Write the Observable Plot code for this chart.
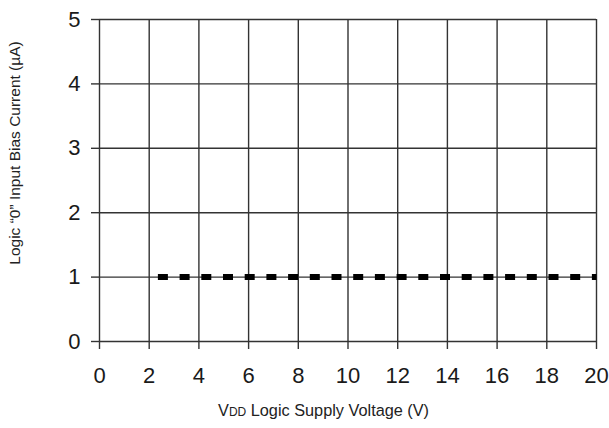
<!DOCTYPE html>
<html>
<head>
<meta charset="utf-8">
<script src="https://cdn.jsdelivr.net/npm/d3@7"></script>
<script src="https://cdn.jsdelivr.net/npm/@observablehq/plot@0.6"></script>
<style>
  html, body { margin: 0; padding: 0; background: #fff; }
  #wrap { position: relative; width: 609px; height: 428px; font-family: "Liberation Sans", Arial, sans-serif; }
  #xlabel { position: absolute; left: 218px; top: 401px; font-size: 16.3px; color: #222; white-space: nowrap; }
  #xlabel .sub { font-size: 12px; }
</style>
</head>
<body>
<div id="wrap">
  <div id="chart"></div>
  <div id="xlabel">V<span class="sub">DD</span> Logic Supply Voltage (V)</div>
</div>
<script>
// Data
const vdd = [2.35, 20];            // VDD logic supply voltage (V)
const biasCurrent = [1, 1];        // Logic "0" input bias current (µA)
const xTicks = [0, 2, 4, 6, 8, 10, 12, 14, 16, 18, 20];
const yTicks = [0, 1, 2, 3, 4, 5];
const yLabel = "Logic \u201C0\u201D Input Bias Current (\u00B5A)";

const data = vdd.map((v, i) => ({ vdd: v, current: biasCurrent[i] }));

const chart = Plot.plot({
  width: 609,
  height: 392,
  marginLeft: 99,
  marginRight: 13,
  marginTop: 19,
  marginBottom: 51,
  x: { domain: [0, 20] },
  y: { domain: [0, 5] },
  style: { fontFamily: "'Liberation Sans', Arial, sans-serif", background: "#fff", color: "#1a1a1a", overflow: "visible" },
  marks: [
    Plot.gridX(xTicks, { stroke: "#333", strokeOpacity: 1, strokeWidth: 1.4 }),
    Plot.gridY(yTicks, { stroke: "#333", strokeOpacity: 1, strokeWidth: 1.4 }),
    Plot.axisX(xTicks, { tickSize: 8, tickPadding: 18, fontSize: 22, label: null, tickFormat: d3.format("d"), stroke: "#333", strokeWidth: 1.4, strokeOpacity: 1 }),
    Plot.axisY(yTicks, { tickSize: 8, tickPadding: 11, fontSize: 22, label: null, tickFormat: d3.format("d"), stroke: "#333", strokeWidth: 1.4, strokeOpacity: 1 }),
    Plot.line(data, { x: "vdd", y: "current", stroke: "#000", strokeWidth: 6, strokeDasharray: "10,11.7", strokeLinecap: "butt" }),
    Plot.text([yLabel], { text: d => d, frameAnchor: "left", textAnchor: "middle", lineAnchor: "middle", rotate: -90, dx: -84, dy: -27.5, fontSize: 15.5, fill: "#222" })
  ]
});
document.getElementById("chart").appendChild(chart);
</script>
</body>
</html>
